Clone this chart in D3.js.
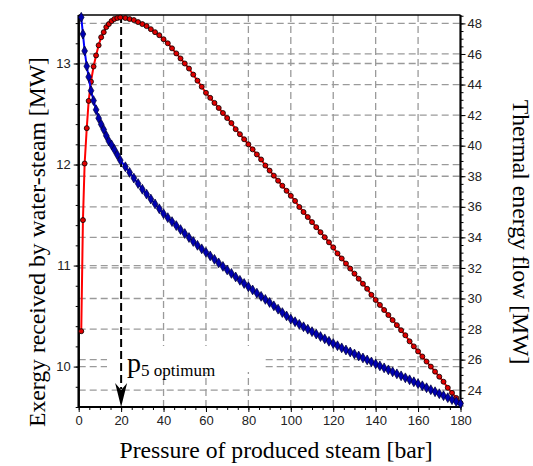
<!DOCTYPE html>
<html>
<head>
<meta charset="utf-8">
<script src="https://cdn.jsdelivr.net/npm/d3@7"></script>
<style>
  body { margin: 0; background: #fff; }
  .tick text { font-family: "Liberation Sans", Arial, sans-serif; font-size: 13px; fill: #222; }
  .tick line { stroke: #000; stroke-width: 1; }
</style>
</head>
<body>
<svg id="chart" width="533" height="466"></svg>
<script>
// pressure of produced steam [bar]
const pressure = [1.2, 2, 2.8, 3.8, 4.7, 5.8, 7, 8.2, 9.4, 10.6, 11.8, 13, 14.2, 15.5, 16.8, 18.2, 19.6,
  22, 24, 26, 28, 30, 32, 34, 36, 38, 40, 42, 44, 46, 48, 50, 52, 54, 56, 58, 60,
  62, 64, 66, 68, 70, 72, 74, 76, 78, 80, 82, 84, 86, 88, 90, 92, 94, 96, 98, 100,
  102, 104, 106, 108, 110, 112, 114, 116, 118, 120, 122, 124, 126, 128, 130, 132, 134, 136, 138, 140,
  142, 144, 146, 148, 150, 152, 154, 156, 158, 160, 162, 164, 166, 168, 170, 172, 174, 176, 178, 180]

// exergy received by water-steam [MW] (left axis, red)
const exergy = [10.35, 11.45, 12.01, 12.36, 12.63, 12.82, 12.97, 13.08, 13.18, 13.26, 13.31, 13.36, 13.39, 13.42, 13.44, 13.45, 13.455,
  13.45, 13.44, 13.43, 13.41, 13.39, 13.37, 13.34, 13.31, 13.28, 13.24, 13.20, 13.15, 13.10, 13.05, 13.00, 12.95, 12.89, 12.83, 12.77, 12.71,
  12.66, 12.61, 12.56, 12.51, 12.46, 12.41, 12.35, 12.30, 12.25, 12.20, 12.15, 12.10, 12.05, 11.99, 11.94, 11.89, 11.84, 11.79, 11.74, 11.69,
  11.64, 11.58, 11.53, 11.48, 11.43, 11.38, 11.33, 11.28, 11.23, 11.18, 11.12, 11.07, 11.02, 10.97, 10.92, 10.87, 10.82, 10.77, 10.71, 10.66,
  10.61, 10.56, 10.51, 10.46, 10.41, 10.36, 10.31, 10.25, 10.20, 10.15, 10.10, 10.05, 10.00, 9.95, 9.90, 9.85, 9.79, 9.74, 9.69, 9.64]

// thermal energy flow [MW] (right axis, blue)
const thermal = [48.4, 47.3, 46.2, 45.2, 44.5, 43.6, 42.95, 42.35, 41.8, 41.4, 41.05, 40.65, 40.3, 40.05, 39.75, 39.4, 39.05,
  38.62, 38.25, 37.88, 37.52, 37.15, 36.83, 36.51, 36.19, 35.87, 35.55, 35.29, 35.03, 34.77, 34.51, 34.25, 33.99, 33.73, 33.48, 33.25, 33.02,
  32.79, 32.56, 32.33, 32.10, 31.87, 31.64, 31.41, 31.19, 30.98, 30.77, 30.56, 30.35, 30.14, 29.94, 29.74, 29.52, 29.30, 29.08, 28.86, 28.65,
  28.48, 28.31, 28.15, 27.99, 27.83, 27.67, 27.51, 27.36, 27.20, 27.05, 26.91, 26.77, 26.63, 26.50, 26.37, 26.24, 26.11, 25.98, 25.85, 25.72,
  25.59, 25.46, 25.33, 25.20, 25.07, 24.94, 24.81, 24.68, 24.55, 24.42, 24.29, 24.16, 24.03, 23.90, 23.77, 23.64, 23.51, 23.38, 23.25, 23.12]

const xTicks = [0, 20, 40, 60, 80, 100, 120, 140, 160, 180]
const leftTicks = [10, 11, 12, 13]
const rightTicks = [24, 26, 28, 30, 32, 34, 36, 38, 40, 42, 44, 46, 48]
const optimumP = 20

const svg = d3.select('#chart')
const plotLeft = 78.7, plotRight = 460.5, plotTop = 15, plotBottom = 407

const x = d3.scaleLinear().domain([0, 180]).range([plotLeft, plotRight])
const yL = d3.scaleLinear().domain([9.6, 13.48]).range([plotBottom, plotTop])
const yR = d3.scaleLinear().domain([22.9, 48.55]).range([plotBottom, plotTop])

// grid
const grid = svg.append('g').attr('stroke', '#9a9a9a').attr('stroke-width', 1.3).attr('stroke-dasharray', '7,4')
grid.selectAll('.gl').data(leftTicks).enter().append('line')
  .attr('x1', plotLeft).attr('x2', plotRight).attr('y1', d => yL(d)).attr('y2', d => yL(d))
grid.selectAll('.gr').data(rightTicks).enter().append('line')
  .attr('x1', plotLeft).attr('x2', plotRight).attr('y1', d => yR(d)).attr('y2', d => yR(d))
grid.selectAll('.gx').data(xTicks.filter(d => d > optimumP && d < 180)).enter().append('line')
  .attr('y1', plotTop).attr('y2', plotBottom).attr('x1', d => x(d)).attr('x2', d => x(d))

// white box behind the label
svg.append('rect').attr('x', 107).attr('y', 346).attr('width', 155).attr('height', 26).attr('fill', '#fff')

// axes: major + minor ticks
svg.append('g').attr('transform', `translate(0,${plotBottom})`)
  .call(d3.axisBottom(x).tickValues(xTicks).tickSize(5).tickPadding(4))
svg.append('g').attr('transform', `translate(0,${plotBottom})`)
  .call(d3.axisBottom(x).tickValues(d3.range(0, 181, 5)).tickSize(3).tickFormat(''))

svg.append('g').attr('transform', `translate(${plotLeft},0)`)
  .call(d3.axisLeft(yL).tickValues(leftTicks).tickFormat(d3.format('d')).tickSize(5).tickPadding(3))
svg.append('g').attr('transform', `translate(${plotLeft},0)`)
  .call(d3.axisLeft(yL).tickValues(d3.range(9.6, 13.45, 0.2)).tickSize(3).tickFormat(''))

svg.append('g').attr('transform', `translate(${plotRight},0)`)
  .call(d3.axisRight(yR).tickValues(rightTicks).tickSize(5).tickPadding(2))
svg.append('g').attr('transform', `translate(${plotRight},0)`)
  .call(d3.axisRight(yR).tickValues(d3.range(23, 48.6, 0.5)).tickSize(3).tickFormat(''))

svg.selectAll('.domain').remove()

// frame
svg.append('line').attr('x1', plotLeft).attr('x2', plotLeft).attr('y1', plotTop).attr('y2', plotBottom + 1).attr('stroke', '#000').attr('stroke-width', 2.5)
svg.append('line').attr('x1', plotRight).attr('x2', plotRight).attr('y1', plotTop).attr('y2', plotBottom + 1).attr('stroke', '#000').attr('stroke-width', 2.2)
svg.append('line').attr('x1', plotLeft).attr('x2', plotRight).attr('y1', plotBottom).attr('y2', plotBottom).attr('stroke', '#000').attr('stroke-width', 2.2)
svg.append('line').attr('x1', plotLeft).attr('x2', plotRight).attr('y1', plotTop).attr('y2', plotTop).attr('stroke', '#000').attr('stroke-width', 1.5)

// optimum marker: dashed line + arrow
const ax = x(optimumP)
svg.append('line').attr('x1', ax).attr('x2', ax).attr('y1', plotTop).attr('y2', plotBottom - 18)
  .attr('stroke', '#000').attr('stroke-width', 2).attr('stroke-dasharray', '8,4')
svg.append('path')
  .attr('d', `M${ax},${plotBottom} L${ax - 6},${plotBottom - 24} L${ax},${plotBottom - 17} L${ax + 6},${plotBottom - 24} Z`)
  .attr('fill', '#000')

// curves
const redLine = d3.line().x((d, i) => x(pressure[i])).y(d => yL(d))
const blueLine = d3.line().x((d, i) => x(pressure[i])).y(d => yR(d))

svg.append('path').datum(exergy).attr('d', redLine).attr('fill', 'none').attr('stroke', '#ff0000').attr('stroke-width', 2)
svg.append('g').selectAll('circle').data(exergy).enter().append('circle')
  .attr('cx', (d, i) => x(pressure[i])).attr('cy', d => yL(d)).attr('r', 2.5)
  .attr('fill', '#e00000').attr('stroke', '#000').attr('stroke-width', 0.8)

svg.append('path').datum(thermal).attr('d', blueLine).attr('fill', 'none').attr('stroke', '#0000ff').attr('stroke-width', 2)
const diamond = d3.symbol().type(d3.symbolDiamond).size(28)
svg.append('g').selectAll('path').data(thermal).enter().append('path')
  .attr('d', diamond)
  .attr('transform', (d, i) => `translate(${x(pressure[i])},${yR(d)})`)
  .attr('fill', '#0000b0').attr('stroke', '#000030').attr('stroke-width', 0.7)

// label
const serif = '"Liberation Serif", "Times New Roman", serif'
const lab = svg.append('text').attr('x', 127).attr('y', 372)
  .style('font-family', serif).attr('fill', '#000')
lab.append('tspan').style('font-size', '28px').text('p')
lab.append('tspan').style('font-size', '17px').attr('dy', 4).text('5 optimum')

// axis titles
svg.append('text').attr('x', 276).attr('y', 458).attr('text-anchor', 'middle')
  .style('font-family', serif).style('font-size', '23.7px').text('Pressure of produced steam [bar]')
svg.append('text').attr('transform', 'translate(45,242) rotate(-90)').attr('text-anchor', 'middle')
  .style('font-family', serif).style('font-size', '23.7px').text('Exergy received by water-steam [MW]')
svg.append('text').attr('transform', 'translate(513,232) rotate(90)').attr('text-anchor', 'middle')
  .style('font-family', serif).style('font-size', '23.7px').text('Thermal energy flow [MW]')
</script>
</body>
</html>
